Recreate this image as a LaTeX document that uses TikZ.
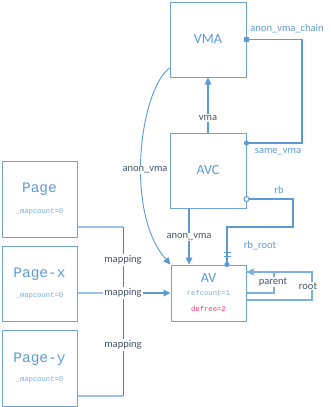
\documentclass[tikz,border=0pt]{standalone}
\usepackage{fontspec}
\setmainfont{Carlito}
\newfontfamily\codefont{Liberation Mono}
\usetikzlibrary{arrows.meta}

\definecolor{boxline}{HTML}{6FA3D8}
\definecolor{edge}{HTML}{5B9BD5}
\definecolor{paleedge}{HTML}{9DC3E6}
\definecolor{darkedge}{HTML}{4F81BD}
\definecolor{lbl}{HTML}{44546A}
\definecolor{hot}{HTML}{FF3366}

\tikzset{
  structbox/.style={draw=boxline, line width=1pt, inner sep=0pt, minimum width=75pt},
  bigtxt/.style={text=edge, font=\fontsize{14}{16}\selectfont, inner sep=0pt},
  pagetxt/.style={text=edge, font=\codefont\fontsize{14.5}{16}\selectfont, inner sep=0pt},
  smalltxt/.style={text=edge!85, font=\codefont\fontsize{7.2}{8}\selectfont, inner sep=0pt},
  darklbl/.style={text=lbl, font=\fontsize{10.5}{12}\selectfont, fill=white, inner sep=1pt},
  bluelbl/.style={text=edge, font=\fontsize{10.5}{12}\selectfont, inner sep=1pt},
  conn/.style={draw=edge, line width=1.2pt},
  thinconn/.style={draw=darkedge, line width=0.9pt},
  paleconn/.style={draw=paleedge, line width=1.8pt},
  tip/.style={-{Triangle[length=7pt,width=6.5pt]}},
}

\begin{document}
\begin{tikzpicture}[x=1pt,y=-1pt]
\useasboundingbox[fill=white] (0,0) rectangle (331,407);

% structure boxes
\node[structbox, minimum width=76pt, minimum height=75pt] (vma) at (208,39.5) {};
\node[structbox, minimum width=76pt, minimum height=75pt] (avc) at (208,170.5) {};
\node[structbox, minimum height=56pt] (av) at (208.5,293) {};
\node[structbox, minimum height=76pt] (page) at (39.5,199) {};
\node[structbox, minimum height=75pt] (pagex) at (39.5,283.5) {};
\node[structbox, minimum height=76pt] (pagey) at (39.5,368) {};

% box contents
\node[bigtxt] (vmaT) at (vma.center) {VMA};
\node[bigtxt] (avcT) at (avc.center) {AVC};
\node[bigtxt] (avT) at ([yshift=15pt]av.center) {AV};
\node[smalltxt] (avRef) at (av.center) {refcount=1};
\node[text=hot, font=\codefont\fontsize{7.2}{8}\selectfont, inner sep=0pt] (avDef) at ([yshift=-16pt]av.center) {defree=2};
\node[pagetxt] (pageT) at ([yshift=10pt]page.center) {Page};
\node[smalltxt] (pageM) at ([yshift=-13pt]page.center) {\_mapcount=0};
\node[pagetxt] (pagexT) at ([yshift=9.5pt]pagex.center) {Page-x};
\node[smalltxt] (pagexM) at ([yshift=-12.5pt]pagex.center) {\_mapcount=0};
\node[pagetxt] (pageyT) at ([yshift=9pt]pagey.center) {Page-y};
\node[smalltxt] (pageyM) at ([yshift=-12pt]pagey.center) {\_mapcount=0};

% anchor points on the box sides
\coordinate (avcSame) at ([yshift=27.5pt]avc.east);
\coordinate (avcRb) at ([yshift=-28.5pt]avc.east);
\coordinate (chainTurn) at (302,143);
\coordinate (rbTurn) at (293,227);
\coordinate (avRoot) at ([xshift=18.5pt]av.north);
\coordinate (avcOut) at ([xshift=-19pt]avc.south);
\coordinate (avIn) at (avcOut |- av.north);
\coordinate (vmaOut) at ([yshift=-28.5pt]vma.west);
\coordinate (avParentIn) at ([yshift=21pt]av.east);
\coordinate (avRootOut) at ([yshift=-7pt]av.east);
\coordinate (parentTurn) at (274,293);
\coordinate (rootTurn) at (312,300);
\coordinate (pageOut) at ([yshift=-28pt]page.east);
\coordinate (pageyOut) at ([yshift=-28pt]pagey.east);
\coordinate (pagexOut) at ([yshift=-9.5pt]pagex.east);
\coordinate (mapJoin) at (123,293);

% vma
\draw[conn, tip] (avc.north) -- (vma.south);
\node[darklbl] (lVma) at (208,118) {vma};

% anon_vma_chain / same_vma
\draw[conn, line width=1.5pt] (vma.east) -| (chainTurn) -- (avcSame);
\node[fill=edge, minimum size=5pt, inner sep=0pt] (chainSq) at (vma.east) {};
\fill[edge] (avcSame) circle (2.6pt);
\node[bluelbl] (lChain) at (287,29) {anon\_vma\_chain};
\node[bluelbl] (lSame) at (278,152) {same\_vma};

% rb / rb_root
\draw[conn, line width=1.5pt] (avcRb) -| (rbTurn) -| (avRoot);
\filldraw[draw=edge, fill=white, line width=1pt] (avcRb) circle (2.5pt);
\fill[edge] (avRoot) circle (2.6pt);
\draw[conn, line width=0.9pt] ([xshift=-3.5pt]avRoot |- 0,252) -- ([xshift=3.5pt]avRoot |- 0,252);
\draw[conn, line width=0.9pt] ([xshift=-3.5pt]avRoot |- 0,256) -- ([xshift=3.5pt]avRoot |- 0,256);
\node[bluelbl] (lRb) at (279,190) {rb};
\node[bluelbl] (lRbRoot) at (260,246) {rb\_root};

% AVC -> AV
\draw[conn, tip] (avcOut) -- (avIn);
\node[darklbl] (lAnon2) at (189,237) {anon\_vma};

% VMA -> AV
\draw[thinconn, draw=edge, tip] (vmaOut) .. controls (140,90) and (124,212) .. (av.north west);
\node[darklbl] (lAnon1) at (145,170) {anon\_vma};

% parent / root loops
\draw[conn, paleconn, draw=edge!80] (avRootOut) -| (rootTurn) |- (avParentIn);
\draw[conn, draw=edge!80, line width=1.8pt, tip] ([xshift=30pt]avParentIn) -- (avParentIn);
\draw[conn, paleconn, draw=edge!80] (av.east) -| (parentTurn) -- (parentTurn |- avParentIn);
\node[darklbl] (lParent) at (273,282) {parent};
\node[darklbl] (lRoot) at (308,286) {root};

% mapping
\draw[paleconn] (pageOut) -- (pageOut -| mapJoin);
\draw[paleconn] (pageyOut) -- (pageyOut -| mapJoin);
\draw[thinconn] (pageOut -| mapJoin) -- (pageyOut -| mapJoin);
\draw[paleconn] (pagexOut) -- (mapJoin);
\draw[conn, line width=1.8pt, tip] (mapJoin) -- (av.west);
\node[darklbl] (lMap1) at (123,260) {mapping};
\node[darklbl] (lMap2) at (123,293) {mapping};
\node[darklbl] (lMap3) at (123,345) {mapping};
\end{tikzpicture}
\end{document}
